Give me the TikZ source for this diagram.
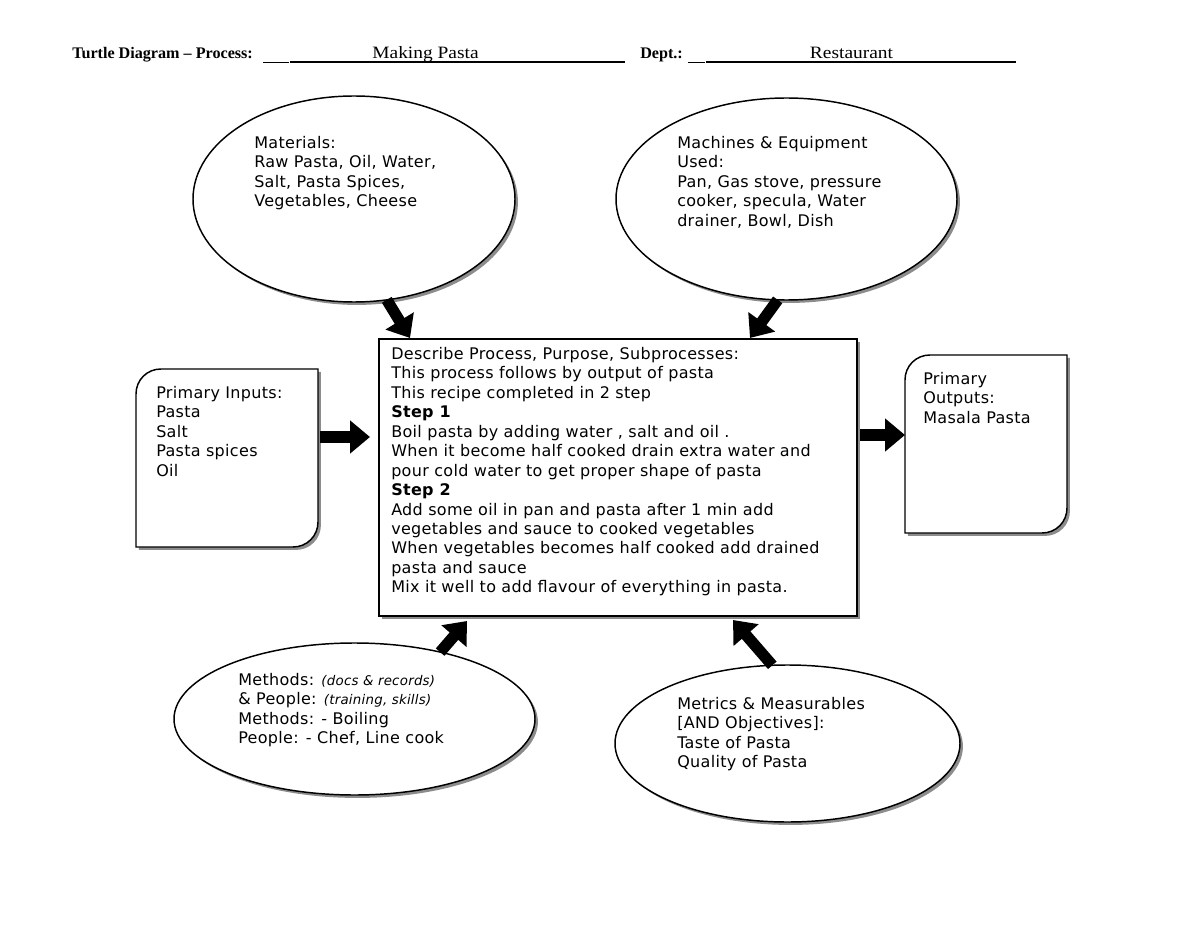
\documentclass[tikz,border=0pt]{standalone}
\usepackage{fontspec}
\setmainfont{DejaVu Sans}[LetterSpace=2]
\newfontfamily\hdr{Liberation Serif}
\newfontfamily\hdrwide[FakeStretch=1.12]{Liberation Serif}
\usetikzlibrary{shapes.geometric,arrows.meta,calc,shadows}
\newcommand\cutboxpath[1]{($(#1.north west)+(0,25)$) .. controls ($(#1.north west)+(0,11)$) and ($(#1.north west)+(11,0)$) .. ($(#1.north west)+(25,0)$) -- (#1.north east) -- ($(#1.south east)+(0,-25)$) .. controls ($(#1.south east)+(0,-11)$) and ($(#1.south east)+(-11,0)$) .. ($(#1.south east)+(-25,0)$) -- (#1.south west) -- cycle}
\begin{document}
\begin{tikzpicture}[x=0.75pt,y=-0.75pt,
  txt/.style={anchor=north west, inner sep=0, align=left, font=\fontsize{12}{14.6}\selectfont},
  shd/.style={drop shadow={shadow xshift=2.2pt, shadow yshift=-2.2pt, fill=black!45, opacity=1}},
  shp/.style={draw=black, line width=1.1pt, fill=white, inner sep=0, outer sep=0},
  ell/.style={shp, ellipse, shd},
  rbox/.style={shp, rectangle, shd},
  frame/.style={rectangle, inner sep=0, outer sep=0},
  blk/.style={line width=8.5pt, -{Triangle[length=15pt,width=24pt]}, draw=black},
  hlab/.style={anchor=base west, inner sep=0, font=\hdr\bfseries\fontsize{12.1}{13}\selectfont},
  hval/.style={anchor=base, inner sep=0, font=\hdrwide\fontsize{13}{14}\selectfont},
  uline/.style={line width=0.8pt},
]
\useasboundingbox (0,0) rectangle (1200,927);
% header
\node[hlab] (ttl) at (72,58.5) {Turtle Diagram – Process:};
\node[hval] (pname) at (425.5,58.5) {Making Pasta};
\node[hlab] (dlab) at (640,58.5) {Dept.:};
\node[hval] (dname) at (851.5,58.5) {Restaurant};
\draw[uline] (263,62.5) -- (289,62.5) (290,62) -- (625,62);
\draw[uline] (688,62.5) -- (705,62.5) (706,62) -- (1016,62);

% shapes
\node[ell, minimum width=241.5pt, minimum height=154.5pt] (mat) at (354,199) {};
\node[ell, minimum width=255.75pt, minimum height=151.5pt] (mach) at (786.5,199) {};
\node[ell, minimum width=270.75pt, minimum height=114pt] (meth) at (354.5,719) {};
\node[ell, minimum width=258.75pt, minimum height=117.75pt] (metr) at (787.5,743.5) {};
\node[rbox, minimum width=358.5pt, minimum height=207.75pt] (proc) at (618,477.5) {};
\node[frame, minimum width=136.5pt, minimum height=133.5pt] (in) at (227,458) {};
\node[frame, minimum width=121.5pt, minimum height=133.5pt] (out) at (986,444) {};
\fill[black!45, transform canvas={xshift=2.2pt, yshift=-2.2pt}] \cutboxpath{in};
\fill[black!45, transform canvas={xshift=2.2pt, yshift=-2.2pt}] \cutboxpath{out};
\draw[line width=1.1pt, fill=white] \cutboxpath{in};
\draw[line width=1.1pt, fill=white] \cutboxpath{out};

% texts
\node[txt] (matT) at (254,134.4) {\strut Materials:\\Raw Pasta, Oil, Water,\\Salt, Pasta Spices,\\Vegetables, Cheese};
\node[txt] (machT) at (677,134.4) {\strut Machines \& Equipment\\Used:\\Pan, Gas stove, pressure\\cooker, specula, Water\\drainer, Bowl, Dish};
\node[txt] (procT) at (391,345.4) {\strut Describe Process, Purpose, Subprocesses:\\This process follows by output of pasta\\This recipe completed in 2 step\\\textbf{Step 1}\\Boil pasta by adding water , salt and oil .\\When it become half cooked drain extra water and\\pour cold water to get proper shape of pasta\\\textbf{Step 2}\\Add some oil in pan and pasta after 1 min add\\vegetables and sauce to cooked vegetables\\When vegetables becomes half cooked add drained\\pasta and sauce\\Mix it well to add flavour of everything in pasta.};
\node[txt] (inT) at (156,384.4) {\strut Primary Inputs:\\Pasta\\Salt\\Pasta spices\\Oil};
\node[txt] (outT) at (923,370.4) {\strut Primary\\Outputs:\\Masala Pasta};
\node[txt] (methT) at (238,671.4) {\strut Methods: {\fontsize{10}{10}\selectfont\itshape (docs \& records)}\\\& People: {\fontsize{10}{10}\selectfont\itshape (training, skills)}\\Methods: - Boiling\\People: - Chef, Line cook};
\node[txt] (metrT) at (677,695.4) {\strut Metrics \& Measurables\\{[AND Objectives]:}\\Taste of Pasta\\Quality of Pasta};

% block arrows
\draw[blk] (mat.-72) -- ($(proc.north west)+(31,-1)$);
\draw[blk] (mach.-95) -- ($(proc.north east)+(-107,-1)$);
\draw[blk] ($(in.east)+(2,-21)$) -- ($(proc.west)+(-9,-40.5)$);
\draw[blk] ($(proc.east)+(3,-42.5)$) -- ($(out.west)+(0,-9)$);
\draw[blk] (meth.38) -- ($(proc.south west)+(88,5)$);
\draw[blk] (metr.101) -- ($(proc.south west)+(354,4)$);
\end{tikzpicture}
\end{document}
